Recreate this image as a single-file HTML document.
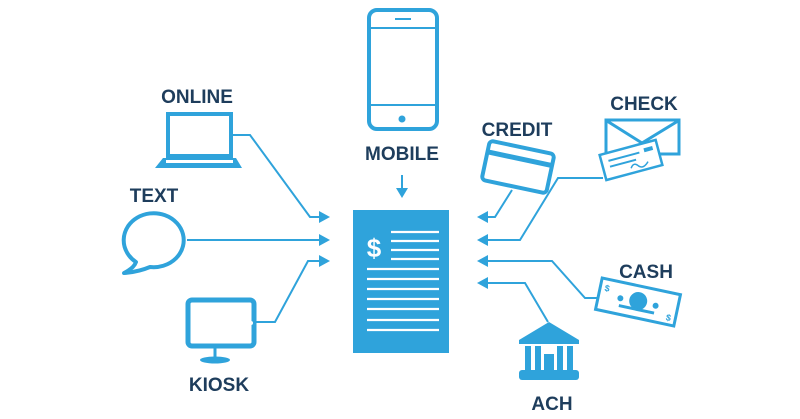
<!DOCTYPE html>
<html><head><style>
html,body{margin:0;padding:0;background:#fff;width:800px;height:419px;overflow:hidden}
svg{display:block}
text{font-family:"Liberation Sans",sans-serif;font-weight:bold;fill:#1e3d5c;text-anchor:middle}
</style></head><body>
<svg width="800" height="419" viewBox="0 0 800 419">
<g fill="none" stroke="#2fa3db" stroke-width="2">
 <!-- left connectors -->
 <polyline points="233,135 250,135 310,217 320,217"/>
 <line x1="187" y1="240" x2="320" y2="240"/>
 <polyline points="255,322 275,322 308,261 320,261"/>
 <!-- right connectors -->
 <polyline points="512,190 495,217 486,217"/>
 <polyline points="603,178 558,178 520,240 486,240"/>
 <polyline points="597,298 585,298 552,261 486,261"/>
 <polyline points="548,322 525,283 486,283"/>
 <line x1="402" y1="175" x2="402" y2="190"/>
</g>
<g fill="#2fa3db">
 <polygon points="330,217 319,211 319,223"/>
 <polygon points="330,240 319,234 319,246"/>
 <polygon points="330,261 319,255 319,267"/>
 <polygon points="477,217 488,211 488,223"/>
 <polygon points="477,240 488,234 488,246"/>
 <polygon points="477,261 488,255 488,267"/>
 <polygon points="477,283 488,277 488,289"/>
 <polygon points="402,198 396,188 408,188"/>
</g>
<!-- document -->
<rect x="353" y="210" width="96" height="143" fill="#2fa3db"/>
<g stroke="#fff" stroke-width="2.2">
 <line x1="391" y1="232" x2="439" y2="232"/><line x1="391" y1="241" x2="439" y2="241"/>
 <line x1="391" y1="250" x2="439" y2="250"/><line x1="391" y1="259" x2="439" y2="259"/>
 <line x1="367" y1="269" x2="439" y2="269"/><line x1="367" y1="279" x2="439" y2="279"/>
 <line x1="367" y1="289" x2="439" y2="289"/><line x1="367" y1="299" x2="439" y2="299"/>
 <line x1="367" y1="309" x2="439" y2="309"/><line x1="367" y1="320" x2="439" y2="320"/>
 <line x1="367" y1="330" x2="439" y2="330"/>
</g>
<text x="374" y="257" style="fill:#fff;font-size:26px">$</text>
<!-- mobile -->
<g fill="none" stroke="#2fa3db" stroke-width="4">
 <rect x="369" y="10" width="68" height="119" rx="8"/>
</g>
<g stroke="#2fa3db" stroke-width="2">
 <line x1="371" y1="28" x2="435" y2="28"/><line x1="371" y1="105" x2="435" y2="105"/>
 <line x1="395" y1="19" x2="411" y2="19"/>
</g>
<circle cx="402" cy="119" r="3.5" fill="#2fa3db"/>
<text x="402" y="160" style="font-size:19px">MOBILE</text>
<!-- online laptop -->
<text x="197" y="103" style="font-size:19px">ONLINE</text>
<rect x="168" y="114" width="63" height="42" fill="none" stroke="#2fa3db" stroke-width="4"/>
<polygon points="163,158 236,158 242,168 155,168" fill="#2fa3db"/>
<rect x="166" y="160" width="67" height="3" fill="#fff"/>
<!-- text bubble -->
<text x="154" y="202" style="font-size:19px">TEXT</text>
<path d="M136,262 A30,27 0 1 1 150,267 Q138,272 124,273 Q134,268 136,262 Z" fill="none" stroke="#2fa3db" stroke-width="4" stroke-linejoin="round"/>
<!-- kiosk -->
<rect x="188" y="300" width="66" height="46" rx="4" fill="none" stroke="#2fa3db" stroke-width="5"/>
<circle cx="251" cy="323" r="2" fill="#fff"/>
<line x1="215" y1="348" x2="215" y2="358" stroke="#2fa3db" stroke-width="3"/>
<ellipse cx="215" cy="360" rx="15" ry="3.5" fill="#2fa3db"/>
<text x="219" y="391" style="font-size:19px">KIOSK</text>
<!-- credit -->
<text x="517" y="136" style="font-size:19px">CREDIT</text>
<g transform="translate(518,167) rotate(12)">
 <rect x="-33" y="-20" width="66" height="40" rx="4" fill="none" stroke="#2fa3db" stroke-width="4"/>
 <rect x="-33" y="-11" width="66" height="5" fill="#2fa3db"/>
</g>
<!-- check -->
<text x="644" y="110" style="font-size:19px">CHECK</text>
<rect x="606" y="120" width="73" height="34" fill="none" stroke="#2fa3db" stroke-width="3"/>
<polyline points="607,121 642,143 678,121" fill="none" stroke="#2fa3db" stroke-width="3"/>
<g transform="translate(631,160) rotate(-15)">
 <rect x="-29" y="-13" width="58" height="26" fill="#fff" stroke="#2fa3db" stroke-width="2.5"/>
 <line x1="-22" y1="-5" x2="10" y2="-5" stroke="#2fa3db" stroke-width="2"/>
 <line x1="-22" y1="1" x2="5" y2="1" stroke="#2fa3db" stroke-width="2"/>
 <rect x="15" y="-8" width="9" height="4" fill="#2fa3db"/>
 <path d="M-2,8 q4,-6 8,0 q4,4 10,-2" fill="none" stroke="#2fa3db" stroke-width="1.5"/>
</g>
<!-- cash -->
<text x="646" y="278" style="font-size:19px">CASH</text>
<g transform="translate(638,302) rotate(12)">
 <rect x="-40" y="-16" width="80" height="32" fill="#fff" stroke="#2fa3db" stroke-width="3"/>
 <circle cx="0" cy="-1" r="9" fill="#2fa3db"/>
 <circle cx="-18" cy="0" r="3" fill="#2fa3db"/><circle cx="18" cy="0" r="3" fill="#2fa3db"/>
 <rect x="-18" y="6" width="36" height="3" fill="#2fa3db"/>
 <text x="-33" y="-4" style="font-size:9px;fill:#2fa3db">$</text>
 <text x="33" y="12" style="font-size:9px;fill:#2fa3db">$</text>
</g>
<!-- ACH bank -->
<polygon points="549,322 519,340 579,340" fill="#2fa3db"/>
<rect x="519" y="340" width="60" height="4" fill="#2fa3db"/>
<rect x="525" y="346" width="6" height="24" fill="#2fa3db"/>
<rect x="535" y="346" width="6" height="24" fill="#2fa3db"/>
<rect x="557" y="346" width="6" height="24" fill="#2fa3db"/>
<rect x="567" y="346" width="6" height="24" fill="#2fa3db"/>
<rect x="544" y="354" width="10" height="16" fill="#2fa3db"/>
<rect x="519" y="370" width="60" height="10" rx="3" fill="#2fa3db"/>
<text x="552" y="410" style="font-size:19px">ACH</text>
</svg>
</body></html>
